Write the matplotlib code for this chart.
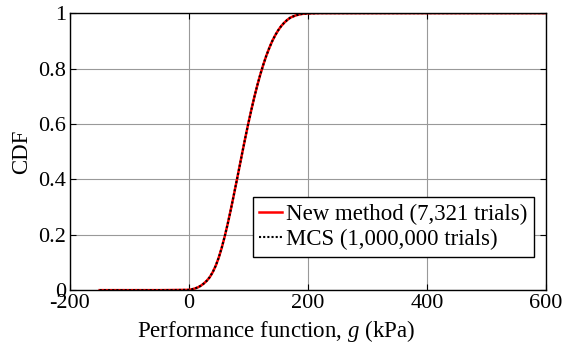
import matplotlib
matplotlib.use("Agg")
import matplotlib.pyplot as plt

# CDF
g_new = [-150, -50, 0, 5, 10, 15, 20, 25, 30, 35, 40, 45, 50, 55, 60, 65, 70,
         75, 80, 85, 90, 95, 100, 105, 110, 115, 120, 125, 130, 135, 140, 145,
         150, 155, 160, 165, 170, 175, 180, 185, 190, 200, 220, 250, 600]
cdf_new = [0.0, 0.0, 0.001, 0.003, 0.006, 0.010, 0.016, 0.024, 0.034, 0.047,
           0.065, 0.088, 0.117, 0.152, 0.193, 0.238, 0.287, 0.339, 0.392, 0.446,
           0.500, 0.553, 0.604, 0.652, 0.698, 0.740, 0.779, 0.814, 0.846, 0.874,
           0.899, 0.920, 0.938, 0.953, 0.965, 0.975, 0.983, 0.988, 0.992, 0.995,
           0.997, 0.999, 1.0, 1.0, 1.0]
g_mcs = g_new
cdf_mcs = cdf_new

xticks = [-200, 0, 200, 400, 600]
yticks = [0, 0.2, 0.4, 0.6, 0.8, 1]
ytick_labels = ["0", "0.2", "0.4", "0.6", "0.8", "1"]

plt.rcParams["font.family"] = ["Liberation Serif", "DejaVu Serif"]
plt.rcParams["mathtext.fontset"] = "custom"
plt.rcParams["mathtext.it"] = "Liberation Serif:italic"
plt.rcParams["mathtext.rm"] = "Liberation Serif"
plt.rcParams["axes.unicode_minus"] = False

fig = plt.figure(figsize=(5.64, 3.45), dpi=100)
ax = fig.add_axes([0.124, 0.159, 0.844, 0.803])

ax.plot(g_new, cdf_new, color="red", lw=1.8, label="New method (7,321 trials)")
ax.plot(g_mcs, cdf_mcs, color="black", lw=1.5, ls=(0, (1, 1)),
        label="MCS (1,000,000 trials)")

ax.set_xlim(-200, 600)
ax.set_ylim(0, 1)
ax.set_xticks(xticks)
ax.set_yticks(yticks)
ax.set_yticklabels(ytick_labels)
ax.grid(True, color="#999999", lw=0.8)
ax.tick_params(direction="in", top=True, right=True, labelsize=16, pad=3, length=4)
for s in ax.spines.values():
    s.set_linewidth(1.0)

ax.set_xlabel("Performance function, $g$ (kPa)", fontsize=16.5)
ax.xaxis.set_label_coords(0.433, -0.1)
ax.set_ylabel("CDF", fontsize=16.5, labelpad=4)

leg = ax.legend(loc="lower right", bbox_to_anchor=(0.975, 0.119), fontsize=16.5,
                fancybox=False, framealpha=1, edgecolor="black",
                handlelength=1.0, handletextpad=0.15, borderpad=0.3,
                labelspacing=0.2, borderaxespad=0)
leg.get_frame().set_linewidth(1.0)

fig.savefig("out.png", dpi=100)
